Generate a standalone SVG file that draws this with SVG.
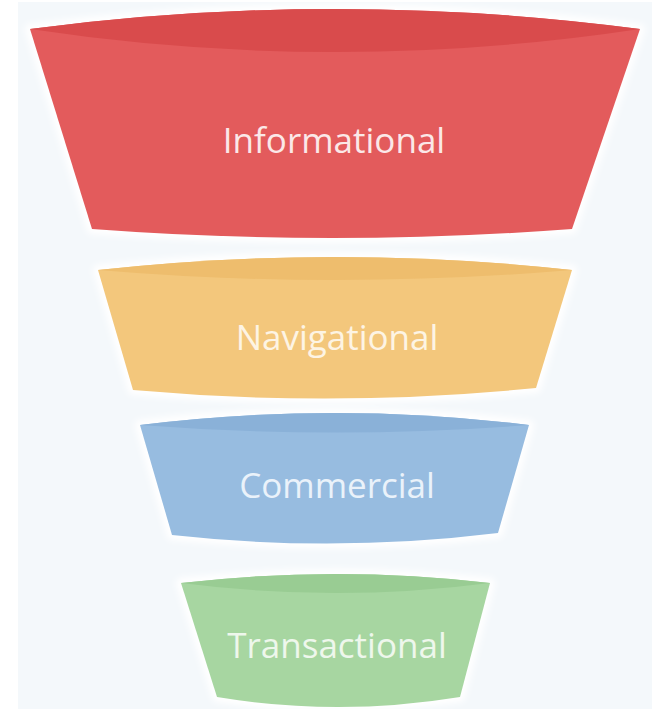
<svg xmlns="http://www.w3.org/2000/svg" width="652" height="709" viewBox="0 0 652 709">
  <defs>
    <filter id="halo" x="-10%" y="-20%" width="120%" height="140%">
      <feGaussianBlur stdDeviation="3"/>
    </filter>
  </defs>
  <style>
    .label { font-family: "Open Sans", "Liberation Sans", sans-serif; font-size: 35px; text-anchor: middle; }
    .glow { fill: #FFFFFF; stroke: #FFFFFF; stroke-width: 10; stroke-linejoin: round; filter: url(#halo); }
    .red .body { fill: #E35B5C; }
    .red .rim { fill: #D94B4C; }
    .red .label { fill: #FBE8E8; }
    .yellow .body { fill: #F3C77C; }
    .yellow .rim { fill: #EEBD6D; }
    .yellow .label { fill: #FDF4E4; }
    .blue .body { fill: #97BCE0; }
    .blue .rim { fill: #8AB1D8; }
    .blue .label { fill: #EAF2FA; }
    .green .body { fill: #A7D6A1; }
    .green .rim { fill: #99CC93; }
    .green .label { fill: #EEF7EC; }
  </style>

  <!-- backdrop -->
  <rect x="0" y="0" width="652" height="709" fill="#FFFFFF"/>
  <rect x="18" y="2" width="634" height="707" fill="#F4F8FB"/>

  <!-- funnel tiers, widest first -->
  <g id="informational" class="red">
    <path class="glow" d="M30,29 Q335,-11 640,29 L572,229 Q332,247 92,229 Z"/>
    <path class="body" d="M30,29 Q335,-11 640,29 L572,229 Q332,247 92,229 Z"/>
    <path class="rim" d="M30,29 Q335,-11 640,29 Q335,75 30,29 Z"/>
    <text class="label" x="334" y="153">Informational</text>
  </g>

  <g id="navigational" class="yellow">
    <path class="glow" d="M98,270 Q335,244 572,270 L536,388 Q335,408 133,390 Z"/>
    <path class="body" d="M98,270 Q335,244 572,270 L536,388 Q335,408 133,390 Z"/>
    <path class="rim" d="M98,270 Q335,244 572,270 Q335,290 98,270 Z"/>
    <text class="label" x="337" y="350">Navigational</text>
  </g>

  <g id="commercial" class="blue">
    <path class="glow" d="M140,425 Q335,401 529,425 L498,533 Q335,553 172,535 Z"/>
    <path class="body" d="M140,425 Q335,401 529,425 L498,533 Q335,553 172,535 Z"/>
    <path class="rim" d="M140,425 Q335,401 529,425 Q335,440 140,425 Z"/>
    <text class="label" x="337" y="498">Commercial</text>
  </g>

  <g id="transactional" class="green">
    <path class="glow" d="M181,583 Q336,565 490,583 L460,697 Q338,717 217,697 Z"/>
    <path class="body" d="M181,583 Q336,565 490,583 L460,697 Q338,717 217,697 Z"/>
    <path class="rim" d="M181,583 Q336,565 490,583 Q336,603 181,583 Z"/>
    <text class="label" x="337" y="658">Transactional</text>
  </g>

  <!-- no connectors in this chart -->
  <g id="connectors"/>
</svg>
